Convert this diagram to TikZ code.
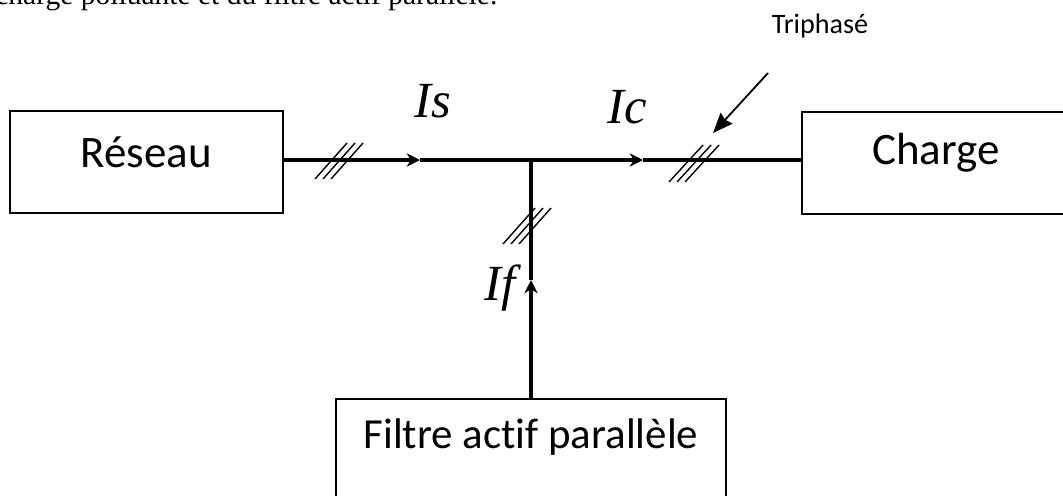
\documentclass[tikz,border=0pt]{standalone}
\usepackage{fontspec}
\setmainfont{Liberation Serif}
\newfontfamily\carlito{Carlito}[Ligatures=CommonOff]
\usetikzlibrary{arrows.meta,positioning,calc}

\begin{document}
\begin{tikzpicture}[x=0.025cm, y=-0.025cm,
  bloc/.style={draw, line width=2pt, minimum height=2.55cm, inner sep=0pt,
    font=\carlito\fontsize{32}{38}\selectfont, text height=0.725cm, text depth=0.675cm},
  fil/.style={line width=2.2pt},
  pointe/.style={-{Stealth[length=0.33cm, width=0.33cm, inset=0.1cm]}},
  hachure/.style={line width=1pt},
  courant/.style={font=\itshape\fontsize{36}{40}\selectfont, anchor=base, inner sep=0pt}]
  \useasboundingbox (0,0) rectangle (1063,495);
  \clip (0,0) rectangle (1063,495);

  % bas de la ligne de texte au-dessus (coupee)
  \node[anchor=base west, inner sep=0pt, font=\fontsize{21}{24}\selectfont] (legende)
    at (-5,4) {charge polluante et du filtre actif parallèle.};

  % Blocs
  \node[bloc, minimum width=6.825cm, text depth=0.475cm] (reseau) at (146.5,162) {Réseau};
  \node[bloc, minimum width=6.7cm] (charge) at (936,163) {Charge};
  \node[bloc, minimum width=9.75cm, text depth=0.8cm,
    font=\carlito\fontsize{30.5}{36}\selectfont] (filtre) at (531,450) {Filtre actif parallèle};

  % Liaisons
  \coordinate (j) at (531,160);
  \coordinate (isfl) at (420,160);
  \coordinate (icfl) at (643,160);
  \coordinate (iffl) at (531,280);
  \draw[fil, pointe] (reseau.east |- j) -- (isfl);
  \draw[fil] (isfl) -- (j);
  \draw[fil, pointe] (j) -- (icfl);
  \draw[fil] (icfl) -- (j -| charge.west);
  \draw[fil, pointe] (filtre.north) -- (iffl);
  \draw[fil] (iffl) -- (j);

  \node[courant] (is) at (433,117) {Is};
  \node[courant] (ic) at (627,123) {Ic};
  \node[courant] (if) at (500,300) {If};

  % Hachures triphasees
  \coordinate (hs) at (339,161);
  \coordinate (hc) at (694,163);
  \coordinate (hf) at (527,226);
  \foreach \o in {-8,0,8} {
    \draw[hachure] ($(hs)+(\o-16,18)$) -- ++(32,-36);
    \draw[hachure] ($(hc)+(\o-17,19)$) -- ++(34,-37);
    \draw[hachure] ($(hf)+(\o-16,18)$) -- ++(32,-36);
  }

  \node[font=\carlito\fontsize{20}{24}\selectfont, anchor=base, inner sep=0pt] (triph)
    at (820,33) {Triphasé};
  \coordinate (tdeb) at (768,73);
  \coordinate (tfin) at (713,133);
  \draw[line width=1.3pt, -{Stealth[length=0.5cm, width=0.4cm, inset=0.05cm]}] (tdeb) -- (tfin);
\end{tikzpicture}
\end{document}
